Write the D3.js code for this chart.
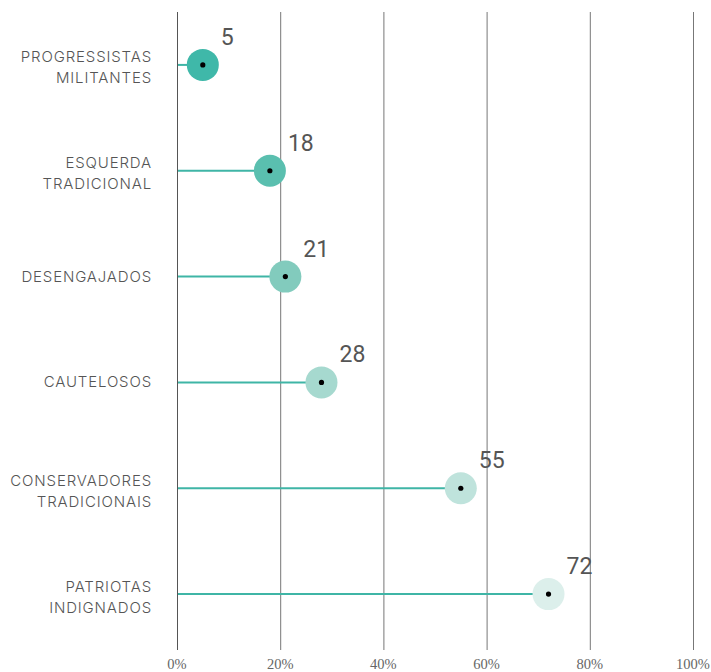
<!DOCTYPE html>
<html><head><meta charset="utf-8">
<script src="https://cdn.jsdelivr.net/npm/d3@7"></script>
<style>body{margin:0;background:#fff}</style>
</head><body>
<svg id="c" width="711" height="672"></svg>
<script>
const categories = [["PROGRESSISTAS","MILITANTES"],["ESQUERDA","TRADICIONAL"],["DESENGAJADOS"],["CAUTELOSOS"],["CONSERVADORES","TRADICIONAIS"],["PATRIOTAS","INDIGNADOS"]];
const values = [5,18,21,28,55,72];
const colors = ["#3fb8a9","#5abfaf","#82cbbd","#a6d9cf","#bfe3dc","#dcefeb"];
const ticks = [0,20,40,60,80,100];

const svg = d3.select("#c");
const x = d3.scaleLinear().domain([0,100]).range([177,693]);
const y = d3.scaleBand().domain(d3.range(categories.length)).range([12,647]).padding(0);

// grid
svg.append("g").selectAll("line").data(ticks).join("line")
  .attr("x1",d=>x(d)+0.5).attr("x2",d=>x(d)+0.5)
  .attr("y1",12).attr("y2",650)
  .attr("stroke",(d,i)=>i===0?"#555":"#777").attr("stroke-width",1);

// tick labels
svg.append("g").selectAll("text").data(ticks).join("text")
  .attr("x",d=>x(d)).attr("y",669)
  .attr("text-anchor","middle")
  .attr("font-family","'Liberation Serif','DejaVu Serif',serif")
  .attr("font-size",14.5).attr("fill","#666")
  .text(d=>d+"%");

const rows = svg.append("g").selectAll("g").data(values).join("g")
  .attr("transform",(d,i)=>`translate(0,${y(i)+y.bandwidth()/2})`);

rows.append("line").attr("x1",x(0)+1).attr("x2",d=>x(d)).attr("y1",0).attr("y2",0)
  .attr("stroke","#3fb5a6").attr("stroke-width",2);
rows.append("circle").attr("cx",d=>x(d)).attr("r",16).attr("fill",(d,i)=>colors[i]);
rows.append("circle").attr("cx",d=>x(d)).attr("r",2.6).attr("fill","#000");
rows.append("text").attr("x",d=>x(d)+18).attr("y",-20)
  .attr("font-family","Roboto,sans-serif").attr("font-size",23).attr("fill","#555")
  .text(d=>d);

rows.each(function(d,i){
  const lines = categories[i];
  const t = d3.select(this).append("text")
    .attr("text-anchor","end")
    .attr("font-family","Inter,'Noto Sans',sans-serif")
    .attr("font-size",15).attr("font-weight",300).attr("fill","#555")
    .attr("letter-spacing",0.85);
  const lh = 21;
  const start = -(lines.length-1)*lh/2 + 5 + (lines.length>1?3:0);
  lines.forEach((s,k)=>t.append("tspan").attr("x",152).attr("y",start+k*lh).text(s));
});
</script>
</body></html>
